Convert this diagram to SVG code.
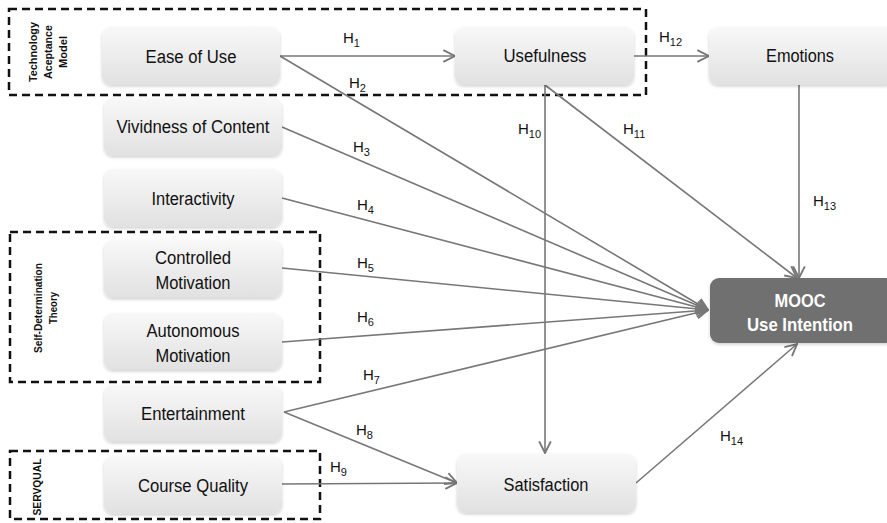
<svg xmlns="http://www.w3.org/2000/svg" width="887" height="523" viewBox="0 0 887 523">
<style>
.box{fill:url(#g);filter:url(#sh)}
.dark{fill:#6f6f6f;filter:url(#sh)}
.t{font-family:"Liberation Sans",Arial,sans-serif;font-size:18px;fill:#111;text-anchor:middle}
.tw{font-family:"Liberation Sans",Arial,sans-serif;font-size:18px;font-weight:bold;fill:#fff;text-anchor:middle}
.h{font-family:"Liberation Sans",Arial,sans-serif;font-size:15px;fill:#111}
.s{font-size:11px}
.grp{fill:none;stroke:#111;stroke-width:2.5;stroke-dasharray:8 5}
.gl{font-family:"Liberation Sans",Arial,sans-serif;font-size:10.5px;font-weight:bold;fill:#111;text-anchor:middle}
.c{fill:none;stroke:#777;stroke-width:1.6;marker-end:url(#a)}
</style>
<defs>
<linearGradient id="g" x1="0" y1="0" x2="0" y2="1">
<stop offset="0" stop-color="#f8f8f8"/>
<stop offset="1" stop-color="#e1e1e1"/>
</linearGradient>
<filter id="sh" x="-10%" y="-10%" width="120%" height="130%">
<feDropShadow dx="0" dy="1.5" stdDeviation="1.5" flood-color="#000" flood-opacity="0.18"/>
</filter>
<marker id="a" markerUnits="userSpaceOnUse" markerWidth="14" markerHeight="14" viewBox="0 0 12 12" refX="11" refY="6" orient="auto">
<path d="M1,1 L11,6 L1,11" fill="none" stroke="#777" stroke-width="1.6"/>
</marker>
</defs>

<g id="groups">
<rect class="grp" x="9" y="9" width="637" height="86"/>
<text class="gl" transform="translate(37,52) rotate(-90)" textLength="60" lengthAdjust="spacingAndGlyphs">Technology</text>
<text class="gl" transform="translate(52,52) rotate(-90)" textLength="54" lengthAdjust="spacingAndGlyphs">Aceptance</text>
<text class="gl" transform="translate(67,52) rotate(-90)" textLength="32" lengthAdjust="spacingAndGlyphs">Model</text>
<rect class="grp" x="10" y="232" width="310" height="150"/>
<text class="gl" transform="translate(42,308) rotate(-90)" textLength="90" lengthAdjust="spacingAndGlyphs">Self-Determination</text>
<text class="gl" transform="translate(57,308) rotate(-90)" textLength="32" lengthAdjust="spacingAndGlyphs">Theory</text>
<rect class="grp" x="10" y="451" width="310" height="68"/>
<text class="gl" transform="translate(41,487) rotate(-90)" textLength="57" lengthAdjust="spacingAndGlyphs">SERVQUAL</text>
</g>

<g id="connectors">
<line class="c" x1="280" y1="56" x2="455" y2="56"/>
<line class="c" x1="280" y1="56" x2="708" y2="310"/>
<line class="c" x1="282" y1="127" x2="708" y2="310"/>
<line class="c" x1="282" y1="198" x2="708" y2="310"/>
<line class="c" x1="282" y1="268" x2="708" y2="310"/>
<line class="c" x1="282" y1="342" x2="708" y2="310"/>
<line class="c" x1="284" y1="412" x2="708" y2="310"/>
<line class="c" x1="284" y1="412" x2="457" y2="483"/>
<line class="c" x1="282" y1="484" x2="457" y2="483"/>
<line class="c" x1="545" y1="85" x2="545" y2="453"/>
<line class="c" x1="545" y1="85" x2="797" y2="278"/>
<line class="c" x1="634" y1="56" x2="709" y2="56"/>
<line class="c" x1="799" y1="85" x2="799" y2="278"/>
<line class="c" x1="636" y1="483" x2="797" y2="344"/>
</g>

<g id="labels">
<text class="h" x="343" y="43">H<tspan class="s" dy="4">1</tspan></text>
<text class="h" x="349" y="88">H<tspan class="s" dy="4">2</tspan></text>
<text class="h" x="353" y="152">H<tspan class="s" dy="4">3</tspan></text>
<text class="h" x="357" y="210">H<tspan class="s" dy="4">4</tspan></text>
<text class="h" x="357" y="268">H<tspan class="s" dy="4">5</tspan></text>
<text class="h" x="357" y="322">H<tspan class="s" dy="4">6</tspan></text>
<text class="h" x="363" y="380">H<tspan class="s" dy="4">7</tspan></text>
<text class="h" x="356" y="435">H<tspan class="s" dy="4">8</tspan></text>
<text class="h" x="330" y="472">H<tspan class="s" dy="4">9</tspan></text>
<text class="h" x="518" y="134">H<tspan class="s" dy="4">10</tspan></text>
<text class="h" x="623" y="134">H<tspan class="s" dy="4">11</tspan></text>
<text class="h" x="659" y="42">H<tspan class="s" dy="4">12</tspan></text>
<text class="h" x="813" y="206">H<tspan class="s" dy="4">13</tspan></text>
<text class="h" x="720" y="441">H<tspan class="s" dy="4">14</tspan></text>
</g>

<g id="ease"><rect class="box" x="102" y="27" width="178" height="58" rx="9"/><text class="t" x="191" y="63" textLength="91" lengthAdjust="spacingAndGlyphs">Ease of Use</text></g>
<g id="vividness"><rect class="box" x="104" y="98" width="178" height="58" rx="9"/><text class="t" x="193" y="133" textLength="153" lengthAdjust="spacingAndGlyphs">Vividness of Content</text></g>
<g id="interactivity"><rect class="box" x="104" y="169" width="178" height="58" rx="9"/><text class="t" x="193" y="205" textLength="83" lengthAdjust="spacingAndGlyphs">Interactivity</text></g>
<g id="controlled"><rect class="box" x="104" y="240" width="178" height="58" rx="9"/><text class="t" x="193" y="264" textLength="76" lengthAdjust="spacingAndGlyphs">Controlled</text><text class="t" x="193" y="289" textLength="75" lengthAdjust="spacingAndGlyphs">Motivation</text></g>
<g id="autonomous"><rect class="box" x="104" y="313" width="178" height="57" rx="9"/><text class="t" x="193" y="337" textLength="93" lengthAdjust="spacingAndGlyphs">Autonomous</text><text class="t" x="193" y="362" textLength="75" lengthAdjust="spacingAndGlyphs">Motivation</text></g>
<g id="entertainment"><rect class="box" x="104" y="385" width="178" height="57" rx="9"/><text class="t" x="193" y="420" textLength="104" lengthAdjust="spacingAndGlyphs">Entertainment</text></g>
<g id="course"><rect class="box" x="104" y="456" width="178" height="58" rx="9"/><text class="t" x="193" y="492" textLength="110" lengthAdjust="spacingAndGlyphs">Course Quality</text></g>
<g id="usefulness"><rect class="box" x="455" y="27" width="179" height="58" rx="9"/><text class="t" x="545" y="62" textLength="83" lengthAdjust="spacingAndGlyphs">Usefulness</text></g>
<g id="emotions"><rect class="box" x="709" y="27" width="186" height="58" rx="9"/><text class="t" x="800" y="62" textLength="68" lengthAdjust="spacingAndGlyphs">Emotions</text></g>
<g id="satisfaction"><rect class="box" x="457" y="454" width="179" height="59" rx="9"/><text class="t" x="546" y="491" textLength="85" lengthAdjust="spacingAndGlyphs">Satisfaction</text></g>
<g id="mooc"><rect class="dark" x="710" y="278" width="185" height="65" rx="9"/><text class="tw" x="800" y="307" textLength="51" lengthAdjust="spacingAndGlyphs">MOOC</text><text class="tw" x="800" y="331" textLength="106" lengthAdjust="spacingAndGlyphs">Use Intention</text></g>
</svg>
